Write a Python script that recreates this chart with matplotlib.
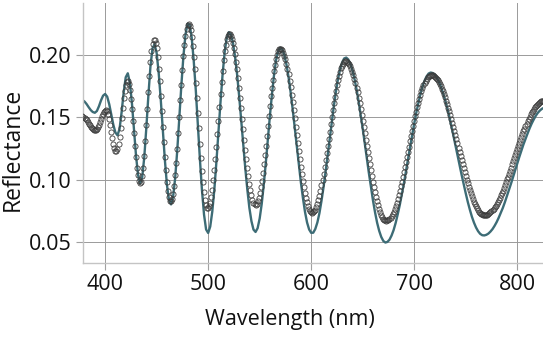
import matplotlib
matplotlib.use("Agg")
import matplotlib.pyplot as plt
import numpy as np

# Modelled reflectance (thin-film fit), sampled every 2 nm
model_wavelength = np.arange(378, 827, 2)
model_reflectance = [
    0.1639, 0.1627, 0.1607, 0.1582, 0.1559, 0.1543, 0.1537, 0.1551, 0.1589, 0.1636,
    0.1674, 0.1688, 0.1666, 0.1605, 0.1522, 0.1439, 0.1378, 0.1356, 0.1407, 0.1541,
    0.1701, 0.1822, 0.1854, 0.1779, 0.1615, 0.1401, 0.1191, 0.1035, 0.0970, 0.1018,
    0.1181, 0.1417, 0.1679, 0.1910, 0.2055, 0.2087, 0.2017, 0.1855, 0.1642, 0.1395,
    0.1156, 0.0957, 0.0835, 0.0801, 0.0864, 0.1015, 0.1234, 0.1495, 0.1759, 0.1993,
    0.2165, 0.2252, 0.2243, 0.2142, 0.1954, 0.1718, 0.1444, 0.1163, 0.0915, 0.0719,
    0.0600, 0.0572, 0.0623, 0.0743, 0.0920, 0.1142, 0.1382, 0.1625, 0.1844, 0.2023,
    0.2137, 0.2184, 0.2167, 0.2103, 0.1994, 0.1851, 0.1678, 0.1485, 0.1289, 0.1095,
    0.0922, 0.0774, 0.0667, 0.0599, 0.0580, 0.0610, 0.0688, 0.0806, 0.0962, 0.1138,
    0.1329, 0.1518, 0.1690, 0.1845, 0.1964, 0.2035, 0.2060, 0.2045, 0.1999, 0.1924,
    0.1825, 0.1704, 0.1567, 0.1420, 0.1270, 0.1120, 0.0978, 0.0852, 0.0741, 0.0656,
    0.0600, 0.0573, 0.0574, 0.0604, 0.0656, 0.0731, 0.0829, 0.0941, 0.1065, 0.1197,
    0.1333, 0.1464, 0.1591, 0.1706, 0.1807, 0.1884, 0.1941, 0.1973, 0.1980, 0.1965,
    0.1931, 0.1879, 0.1811, 0.1725, 0.1630, 0.1521, 0.1411, 0.1291, 0.1172, 0.1053,
    0.0941, 0.0832, 0.0737, 0.0654, 0.0589, 0.0540, 0.0508, 0.0495, 0.0500, 0.0518,
    0.0551, 0.0595, 0.0653, 0.0722, 0.0797, 0.0883, 0.0970, 0.1068, 0.1165, 0.1263,
    0.1356, 0.1450, 0.1536, 0.1614, 0.1685, 0.1745, 0.1794, 0.1829, 0.1852, 0.1860,
    0.1856, 0.1842, 0.1818, 0.1787, 0.1745, 0.1694, 0.1638, 0.1576, 0.1507, 0.1432,
    0.1355, 0.1275, 0.1196, 0.1116, 0.1039, 0.0963, 0.0891, 0.0821, 0.0759, 0.0702,
    0.0655, 0.0616, 0.0586, 0.0565, 0.0554, 0.0552, 0.0557, 0.0567, 0.0583, 0.0603,
    0.0629, 0.0659, 0.0694, 0.0733, 0.0773, 0.0819, 0.0870, 0.0919, 0.0969, 0.1023,
    0.1075, 0.1129, 0.1182, 0.1233, 0.1282, 0.1327, 0.1370, 0.1412, 0.1450, 0.1483,
    0.1513, 0.1537, 0.1555, 0.1569, 0.1577,
]

# Measured reflectance, sampled every 1 nm
measured_wavelength = np.arange(378, 827, 1)
measured_reflectance = [
    0.1508, 0.1504, 0.1496, 0.1487, 0.1475, 0.1462, 0.1449, 0.1436, 0.1424, 0.1413,
    0.1405, 0.1400, 0.1397, 0.1399, 0.1407, 0.1421, 0.1440, 0.1462, 0.1486, 0.1509,
    0.1529, 0.1544, 0.1555, 0.1558, 0.1549, 0.1524, 0.1486, 0.1437, 0.1384, 0.1332,
    0.1286, 0.1251, 0.1230, 0.1227, 0.1245, 0.1286, 0.1344, 0.1416, 0.1496, 0.1577,
    0.1652, 0.1715, 0.1760, 0.1786, 0.1788, 0.1766, 0.1719, 0.1651, 0.1568, 0.1474,
    0.1372, 0.1273, 0.1179, 0.1096, 0.1035, 0.0993, 0.0976, 0.0985, 0.1026, 0.1097,
    0.1193, 0.1307, 0.1436, 0.1571, 0.1704, 0.1833, 0.1942, 0.2029, 0.2091, 0.2123,
    0.2124, 0.2100, 0.2053, 0.1982, 0.1890, 0.1792, 0.1675, 0.1552, 0.1425, 0.1303,
    0.1184, 0.1078, 0.0984, 0.0912, 0.0860, 0.0831, 0.0826, 0.0845, 0.0888, 0.0952,
    0.1034, 0.1134, 0.1248, 0.1375, 0.1503, 0.1636, 0.1761, 0.1881, 0.1989, 0.2085,
    0.2157, 0.2212, 0.2242, 0.2250, 0.2235, 0.2201, 0.2146, 0.2075, 0.1982, 0.1889,
    0.1775, 0.1658, 0.1535, 0.1411, 0.1289, 0.1176, 0.1072, 0.0980, 0.0900, 0.0837,
    0.0797, 0.0774, 0.0771, 0.0785, 0.0816, 0.0860, 0.0920, 0.0995, 0.1074, 0.1165,
    0.1266, 0.1369, 0.1474, 0.1582, 0.1684, 0.1782, 0.1875, 0.1959, 0.2030, 0.2085,
    0.2128, 0.2156, 0.2169, 0.2167, 0.2155, 0.2133, 0.2100, 0.2059, 0.2007, 0.1948,
    0.1885, 0.1814, 0.1737, 0.1655, 0.1573, 0.1489, 0.1406, 0.1322, 0.1240, 0.1164,
    0.1092, 0.1026, 0.0966, 0.0916, 0.0874, 0.0840, 0.0816, 0.0803, 0.0800, 0.0807,
    0.0825, 0.0852, 0.0891, 0.0937, 0.0991, 0.1055, 0.1122, 0.1195, 0.1271, 0.1352,
    0.1432, 0.1514, 0.1592, 0.1669, 0.1737, 0.1801, 0.1869, 0.1924, 0.1969, 0.2004,
    0.2029, 0.2045, 0.2050, 0.2047, 0.2037, 0.2020, 0.1996, 0.1968, 0.1932, 0.1891,
    0.1845, 0.1795, 0.1740, 0.1682, 0.1620, 0.1558, 0.1491, 0.1425, 0.1360, 0.1294,
    0.1228, 0.1165, 0.1103, 0.1045, 0.0990, 0.0939, 0.0894, 0.0852, 0.0817, 0.0788,
    0.0765, 0.0748, 0.0738, 0.0735, 0.0738, 0.0746, 0.0760, 0.0780, 0.0804, 0.0835,
    0.0869, 0.0908, 0.0955, 0.0996, 0.1047, 0.1099, 0.1155, 0.1211, 0.1270, 0.1328,
    0.1386, 0.1446, 0.1502, 0.1558, 0.1612, 0.1663, 0.1709, 0.1756, 0.1797, 0.1834,
    0.1865, 0.1895, 0.1916, 0.1932, 0.1944, 0.1949, 0.1950, 0.1946, 0.1937, 0.1926,
    0.1909, 0.1890, 0.1866, 0.1840, 0.1809, 0.1775, 0.1738, 0.1700, 0.1657, 0.1615,
    0.1569, 0.1522, 0.1473, 0.1424, 0.1374, 0.1322, 0.1272, 0.1222, 0.1170, 0.1122,
    0.1076, 0.1027, 0.0984, 0.0940, 0.0900, 0.0859, 0.0826, 0.0795, 0.0766, 0.0740,
    0.0720, 0.0702, 0.0688, 0.0678, 0.0672, 0.0670, 0.0672, 0.0676, 0.0684, 0.0695,
    0.0707, 0.0724, 0.0744, 0.0765, 0.0789, 0.0816, 0.0845, 0.0877, 0.0910, 0.0945,
    0.0981, 0.1020, 0.1059, 0.1099, 0.1140, 0.1181, 0.1223, 0.1266, 0.1309, 0.1350,
    0.1392, 0.1432, 0.1471, 0.1510, 0.1547, 0.1584, 0.1618, 0.1649, 0.1680, 0.1708,
    0.1734, 0.1757, 0.1777, 0.1796, 0.1810, 0.1821, 0.1831, 0.1836, 0.1840, 0.1840,
    0.1838, 0.1833, 0.1828, 0.1820, 0.1810, 0.1797, 0.1783, 0.1767, 0.1750, 0.1730,
    0.1708, 0.1687, 0.1660, 0.1635, 0.1608, 0.1579, 0.1548, 0.1519, 0.1487, 0.1456,
    0.1425, 0.1392, 0.1359, 0.1325, 0.1292, 0.1256, 0.1222, 0.1190, 0.1156, 0.1122,
    0.1090, 0.1059, 0.1027, 0.0997, 0.0970, 0.0941, 0.0915, 0.0889, 0.0866, 0.0842,
    0.0822, 0.0804, 0.0785, 0.0769, 0.0756, 0.0743, 0.0734, 0.0726, 0.0721, 0.0717,
    0.0715, 0.0715, 0.0717, 0.0720, 0.0724, 0.0730, 0.0737, 0.0745, 0.0755, 0.0766,
    0.0778, 0.0790, 0.0805, 0.0820, 0.0836, 0.0855, 0.0873, 0.0893, 0.0912, 0.0933,
    0.0954, 0.0979, 0.1002, 0.1023, 0.1048, 0.1072, 0.1096, 0.1122, 0.1146, 0.1170,
    0.1197, 0.1221, 0.1246, 0.1272, 0.1296, 0.1319, 0.1342, 0.1365, 0.1388, 0.1409,
    0.1431, 0.1450, 0.1470, 0.1490, 0.1506, 0.1525, 0.1540, 0.1555, 0.1569, 0.1582,
    0.1593, 0.1603, 0.1611, 0.1618, 0.1624, 0.1629, 0.1632, 0.1634, 0.1635,
]

x_ticks = [400, 500, 600, 700, 800]
y_ticks = [0.05, 0.10, 0.15, 0.20]
y_tick_labels = ["0.05", "0.10", "0.15", "0.20"]

plt.rcParams["font.family"] = ["Open Sans", "DejaVu Sans"]

fig = plt.figure(figsize=(5.43, 3.48), dpi=100)
ax = fig.add_axes([0.153, 0.244, 0.847, 0.748])

ax.plot(model_wavelength, model_reflectance, color="#3d6c76", lw=1.7, zorder=2)
ax.plot(measured_wavelength, measured_reflectance, ls="none", marker="o", ms=3.7,
        mfc="none", mec="#3c3c3c", mew=0.6, zorder=3)

ax.set_xlim(378.6, 825)
ax.set_ylim(0.033, 0.242)
ax.set_xticks(x_ticks)
ax.set_yticks(y_ticks)
ax.set_yticklabels(y_tick_labels)

ax.grid(True, color="#9a9a9a", lw=0.7, zorder=0)
ax.set_axisbelow(True)
for side in ("top", "right"):
    ax.spines[side].set_visible(False)
for side in ("left", "bottom"):
    ax.spines[side].set_color("#c4c4c4")
    ax.spines[side].set_linewidth(1.0)
ax.tick_params(axis="both", direction="out", length=5, width=0.8,
               color="#a0a0a0", labelsize=15.5, labelcolor="#111111", pad=3)

ax.set_xlabel("Wavelength (nm)", fontsize=15.5, color="#111111")
ax.set_ylabel("Reflectance", fontsize=16.5, color="#111111",
              va="center", ha="center")
ax.xaxis.set_label_coords(0.45, -0.175)
ax.yaxis.set_label_coords(-0.152, 0.435)

fig.savefig("out.png", dpi=100)
